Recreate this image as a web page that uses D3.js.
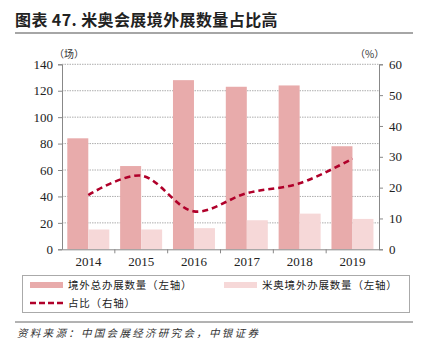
<!DOCTYPE html>
<html>
<head>
<meta charset="utf-8">
<script src="https://cdn.jsdelivr.net/npm/d3@7"></script>
<style>
  body { margin: 0; background: #fff; }
  svg { display: block; }
</style>
</head>
<body>
<svg width="423" height="354"></svg>
<script>
// 米奥会展境外展数量占比
const years = ['2014', '2015', '2016', '2017', '2018', '2019'];
const totalShows = [84, 63, 128, 123, 124, 78];     // 境外总办展数量（左轴）
const miceShows = [15, 15, 16, 22, 27, 23];         // 米奥境外办展数量（左轴）
const sharePct = [17.6, 23.9, 12.3, 18.2, 21.4, 29.4]; // 占比（右轴）
const leftTicks = [0, 20, 40, 60, 80, 100, 120, 140];
const rightTicks = [0, 10, 20, 30, 40, 50, 60];

const svg = d3.select('svg');
const cjk = '"Noto Sans CJK SC", sans-serif';
const num = '"Liberation Serif", "Times New Roman", serif';

// title + rules
svg.append('text')
    .attr('x', 15).attr('y', 26)
    .text('图表 47. 米奥会展境外展数量占比高')
    .attr('font-family', cjk).attr('font-weight', 700).attr('font-size', 16)
    .attr('letter-spacing', 0.4).attr('fill', '#222');
svg.append('line').attr('x1', 15).attr('x2', 413).attr('y1', 33).attr('y2', 33)
    .attr('stroke', '#888').attr('stroke-width', 1.5);

const plotL = 62, plotR = 379, plotT = 64.3, plotB = 249.3;

const x = d3.scaleBand().domain(years).range([plotL, plotR]).paddingInner(0).paddingOuter(0);
const yL = d3.scaleLinear().domain([0, 140]).range([plotB, plotT]);
const yR = d3.scaleLinear().domain([0, 60]).range([plotB, plotT]);

// gridlines
svg.append('g').selectAll('line')
    .data(leftTicks.slice(1))
    .enter().append('line')
    .attr('x1', plotL).attr('x2', plotR)
    .attr('y1', d => yL(d)).attr('y2', d => yL(d))
    .attr('stroke', '#999').attr('stroke-width', 0.8).attr('stroke-dasharray', '1.5,1');

// bars
const bw = 21, gap = 5.3;
const graf = svg.append('g');
graf.selectAll('.total')
    .data(totalShows)
    .enter().append('rect')
    .attr('x', (d, i) => x(years[i]) + gap)
    .attr('y', d => yL(d))
    .attr('width', bw)
    .attr('height', d => yL(0) - yL(d))
    .attr('fill', '#e8abab');
graf.selectAll('.mice')
    .data(miceShows)
    .enter().append('rect')
    .attr('x', (d, i) => x(years[i]) + gap + bw)
    .attr('y', d => yL(d))
    .attr('width', bw)
    .attr('height', d => yL(0) - yL(d))
    .attr('fill', '#f6d8d8');

// share line
const line = d3.line()
    .x((d, i) => x(years[i]) + gap + bw)
    .y(d => yR(d))
    .curve(d3.curveCatmullRom.alpha(0.5));
svg.append('path')
    .attr('d', line(sharePct))
    .attr('fill', 'none')
    .attr('stroke', '#b0002a')
    .attr('stroke-width', 2.6)
    .attr('stroke-dasharray', '6,4');

// axes
const axL = svg.append('g').attr('transform', `translate(${plotL},0)`)
    .call(d3.axisLeft(yL).tickValues(leftTicks).tickSize(4).tickPadding(5));
const axR = svg.append('g').attr('transform', `translate(${plotR},0)`)
    .call(d3.axisRight(yR).tickValues(rightTicks).tickSize(4).tickPadding(6));
const axX = svg.append('g').attr('transform', `translate(0,${plotB})`)
    .call(d3.axisBottom(x).tickSize(0).tickPadding(7));
// category separator ticks
svg.append('g').selectAll('line')
    .data(years.slice(1))
    .enter().append('line')
    .attr('x1', d => x(d)).attr('x2', d => x(d))
    .attr('y1', plotB).attr('y2', plotB + 4)
    .attr('stroke', '#888');

[axL, axR, axX].forEach(a => {
  a.selectAll('path, line').attr('stroke', '#888');
  a.selectAll('text').attr('font-family', num).attr('font-size', 13).attr('fill', '#222');
});

// unit labels
svg.append('text').attr('x', 54).attr('y', 58).text('（场）')
    .attr('font-family', cjk).attr('font-size', 10).attr('fill', '#333');
svg.append('text').attr('x', 355).attr('y', 58).text('（%）')
    .attr('font-family', cjk).attr('font-size', 10).attr('fill', '#333');

// legend
svg.append('rect').attr('x', 22.5).attr('y', 275.5).attr('width', 387).attr('height', 37)
    .attr('fill', 'none').attr('stroke', '#aaa');
const legendFont = g => g.attr('font-family', cjk).attr('font-size', 10.5)
    .attr('letter-spacing', 0.8).attr('fill', '#222');
svg.append('rect').attr('x', 30).attr('y', 282).attr('width', 33).attr('height', 6).attr('fill', '#e8abab');
svg.append('text').attr('x', 68).attr('y', 289).text('境外总办展数量（左轴）').call(legendFont);
svg.append('rect').attr('x', 224).attr('y', 282).attr('width', 33).attr('height', 6).attr('fill', '#f6d8d8');
svg.append('text').attr('x', 262).attr('y', 289).text('米奥境外办展数量（左轴）').call(legendFont);
svg.append('line').attr('x1', 30).attr('x2', 64).attr('y1', 303).attr('y2', 303)
    .attr('stroke', '#b0002a').attr('stroke-width', 2.6).attr('stroke-dasharray', '6,3');
svg.append('text').attr('x', 68).attr('y', 307).text('占比（右轴）').call(legendFont);

// source
svg.append('line').attr('x1', 15).attr('x2', 413).attr('y1', 322).attr('y2', 322)
    .attr('stroke', '#666').attr('stroke-width', 1);
svg.append('text').attr('x', 17).attr('y', 337).text('资料来源：中国会展经济研究会，中银证券')
    .attr('font-family', cjk).attr('font-style', 'italic').attr('font-size', 10.5)
    .attr('letter-spacing', 2.3).attr('fill', '#333');
</script>
</body>
</html>
